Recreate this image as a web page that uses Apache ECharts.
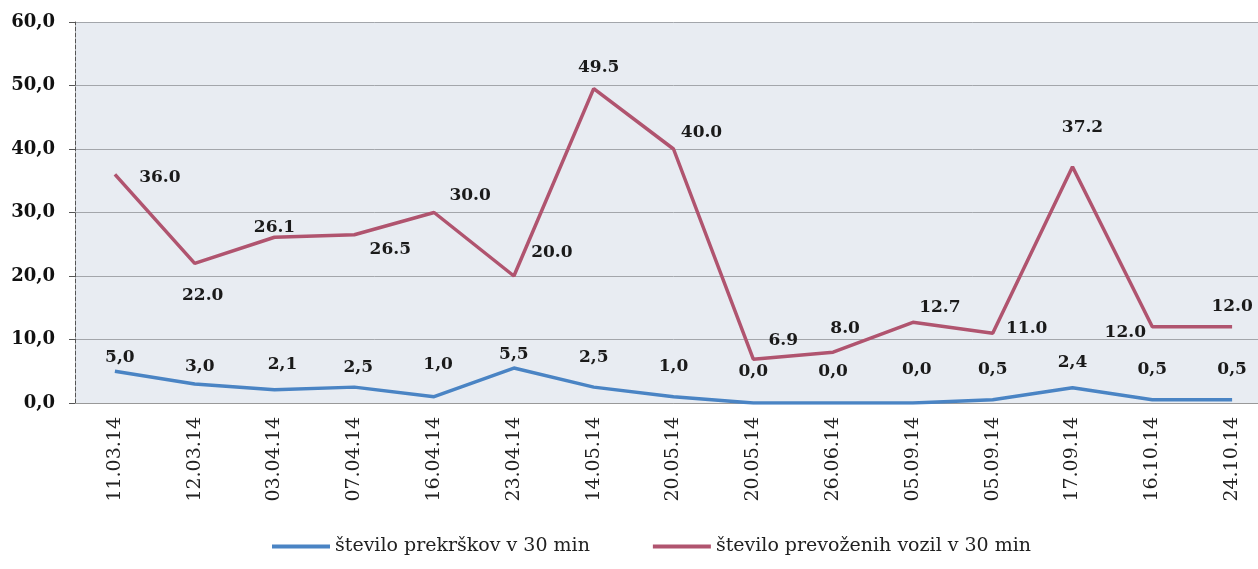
<!DOCTYPE html>
<html>
<head>
  <meta charset="utf-8">
  <title>prekrški</title>
  <script src="https://cdn.jsdelivr.net/npm/echarts@6/dist/echarts.min.js"></script>
</head>
<body style="margin:0;background:#fff;overflow:hidden;">
<!-- plot area runs past the right edge, like in the scan -->
<div id="main" style="width:1272px;height:569px;"></div>
<script>
  // podatki
  var dates = ['11.03.14', '12.03.14', '03.04.14', '07.04.14', '16.04.14', '23.04.14', '14.05.14', '20.05.14',
    '20.05.14', '26.06.14', '05.09.14', '05.09.14', '17.09.14', '16.10.14', '24.10.14'];
  var prekrski = [5.0, 3.0, 2.1, 2.5, 1.0, 5.5, 2.5, 1.0, 0.0, 0.0, 0.0, 0.5, 2.4, 0.5, 0.5];
  var vozila = [36.0, 22.0, 26.1, 26.5, 30.0, 20.0, 49.5, 40.0, 6.9, 8.0, 12.7, 11.0, 37.2, 12.0, 12.0];
  var yTicks = [0, 10, 20, 30, 40, 50, 60];

  // zamik napisov od točke (px)
  var blueOff = [[5, -14], [5, -17], [8, -25], [4, -20], [4, -32], [0, -13], [0, -30], [0, -30],
    [0, -31], [0, -31], [4, -33], [0, -30], [0, -25], [0, -30], [0, -30]];
  var redOff = [[45, 3], [8, 32], [0, -10], [36, 15], [36, -17], [38, -23], [5, -21], [28, -16],
    [30, -19], [12, -24], [27, -15], [34, -5], [10, -39], [-27, 6], [0, -20]];

  var serif = '"DejaVu Serif", "Liberation Serif", serif';

  var myChart = echarts.init(document.getElementById('main'));

  function labelItems(values, offs) {
    return values.map(function (v, i) {
      return { value: v, label: { offset: offs[i] } };
    });
  }

  var dataLabel = {
    show: true,
    position: 'inside',
    color: '#1a1a1a',
    fontFamily: serif,
    fontWeight: 'bold',
    fontSize: 17
  };

  var option = {
    animation: false,
    textStyle: { fontFamily: serif },
    grid: {
      left: 75,
      right: 0,
      top: 22,
      bottom: 166,
      show: true,
      backgroundColor: '#e8ecf2',
      borderWidth: 0
    },
    legend: {
      bottom: 8,
      left: 267,
      icon: 'rect',
      itemWidth: 58,
      itemHeight: 4,
      itemGap: 63,
      textStyle: { fontFamily: serif, fontSize: 19, color: '#222' },
      data: ['število prekrškov v 30 min', 'število prevoženih vozil v 30 min']
    },
    xAxis: {
      type: 'category',
      data: dates,
      boundaryGap: true,
      axisLine: { show: true, lineStyle: { color: '#999' } },
      axisTick: { show: false },
      axisLabel: {
        rotate: 90,
        interval: 0,
        margin: 14,
        color: '#222',
        fontFamily: serif,
        fontSize: 19
      },
      splitLine: { show: false }
    },
    yAxis: {
      type: 'value',
      min: yTicks[0],
      max: yTicks[yTicks.length - 1],
      interval: 10,
      axisLine: { show: true, lineStyle: { color: '#555', type: 'dashed' } },
      axisTick: { show: true, length: 6, lineStyle: { color: '#555' } },
      axisLabel: {
        color: '#111',
        fontFamily: serif,
        fontWeight: 'bold',
        fontSize: 18,
        margin: 20,
        formatter: function (v) { return v.toFixed(1).replace('.', ','); }
      },
      splitLine: { show: true, lineStyle: { color: '#a3a6ab', width: 1 } }
    },
    series: [
      {
        name: 'število prekrškov v 30 min',
        type: 'line',
        data: labelItems(prekrski, blueOff),
        symbol: 'circle',
        symbolSize: 0.1,
        showSymbol: true,
        lineStyle: { color: '#4a84c4', width: 3.5 },
        itemStyle: { color: '#4a84c4' },
        label: Object.assign({}, dataLabel, {
          formatter: function (p) { return p.value.toFixed(1).replace('.', ','); }
        })
      },
      {
        name: 'število prevoženih vozil v 30 min',
        type: 'line',
        data: labelItems(vozila, redOff),
        symbol: 'circle',
        symbolSize: 0.1,
        showSymbol: true,
        lineStyle: { color: '#b0546f', width: 3.5 },
        itemStyle: { color: '#b0546f' },
        label: Object.assign({}, dataLabel, {
          formatter: function (p) { return p.value.toFixed(1); }
        })
      }
    ]
  };

  myChart.setOption(option);
</script>
</body>
</html>
